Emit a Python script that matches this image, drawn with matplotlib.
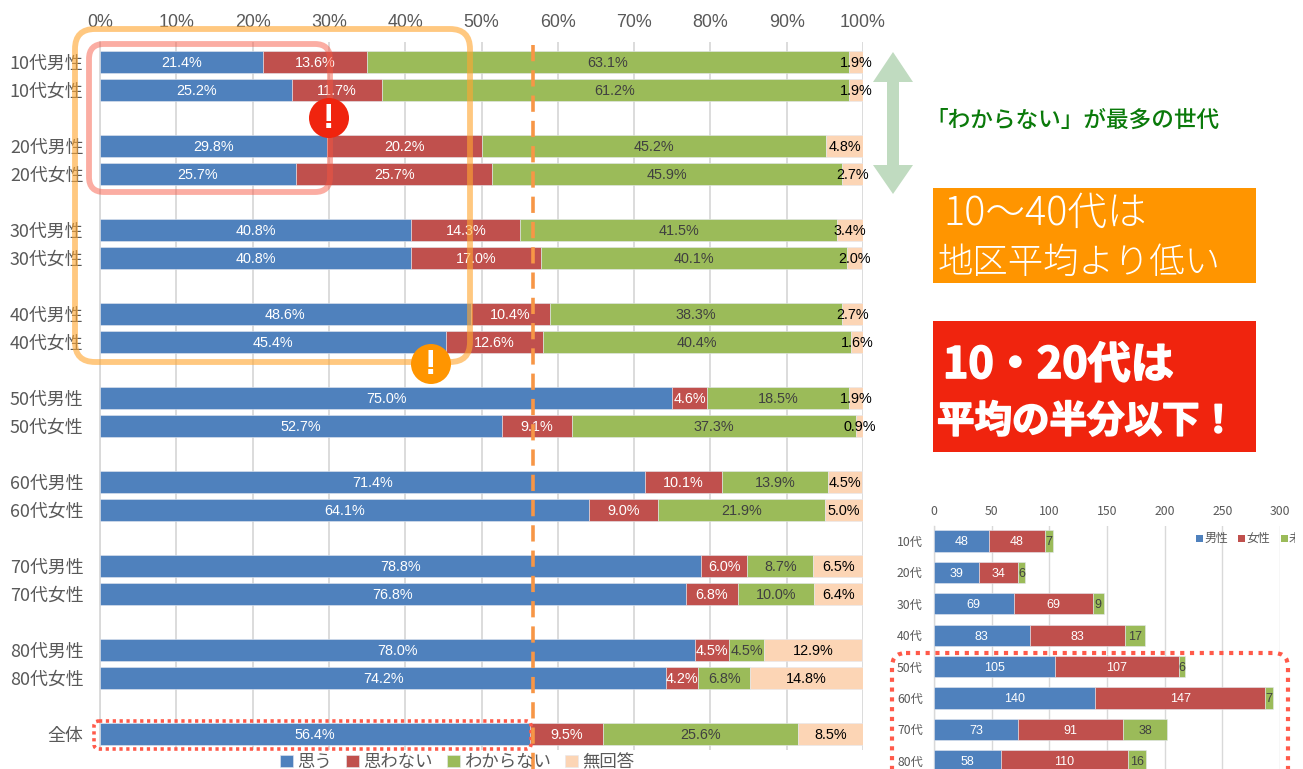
import matplotlib
matplotlib.use("Agg")
import matplotlib.pyplot as plt
import matplotlib.patheffects as pe
from matplotlib.patches import FancyBboxPatch, Circle, Polygon, Rectangle

plt.rcParams["font.family"] = ["Noto Sans CJK JP", "DejaVu Sans"]

W, H = 1303, 769
NUM_FONT = ["Liberation Sans", "Noto Sans CJK JP"]

colors = ["#4F81BD", "#C0504D", "#9BBB59", "#FCD5B5"]
label_colors = ["white", "white", "#404040", "black"]

# main chart
categories = [
    "10代男性", "10代女性", "20代男性", "20代女性",
    "30代男性", "30代女性", "40代男性", "40代女性",
    "50代男性", "50代女性", "60代男性", "60代女性",
    "70代男性", "70代女性", "80代男性", "80代女性", "全体",
]
series_names = ["思う", "思わない", "わからない", "無回答"]
omou = [21.4, 25.2, 29.8, 25.7, 40.8, 40.8, 48.6, 45.4, 75.0, 52.7, 71.4, 64.1, 78.8, 76.8, 78.0, 74.2, 56.4]
omowanai = [13.6, 11.7, 20.2, 25.7, 14.3, 17.0, 10.4, 12.6, 4.6, 9.1, 10.1, 9.0, 6.0, 6.8, 4.5, 4.2, 9.5]
wakaranai = [63.1, 61.2, 45.2, 45.9, 41.5, 40.1, 38.3, 40.4, 18.5, 37.3, 13.9, 21.9, 8.7, 10.0, 4.5, 6.8, 25.6]
mukaito = [1.9, 1.9, 4.8, 2.7, 3.4, 2.0, 2.7, 1.6, 1.9, 0.9, 4.5, 5.0, 6.5, 6.4, 12.9, 14.8, 8.5]

# small chart, only the first glyph of the third legend entry is visible
ages = ["10代", "20代", "30代", "40代", "50代", "60代", "70代", "80代"]
small_names = ["男性", "女性", "未"]
men = [48, 39, 69, 83, 105, 140, 73, 58]
women = [48, 34, 69, 83, 107, 147, 91, 110]
unknown = [7, 6, 9, 17, 6, 7, 38, 16]


def px_axes(fig, left, right, top, bottom):
    return fig.add_axes([left / W, 1 - bottom / H, (right - left) / W, (bottom - top) / H])


def stacked(ax, rows, all_values, height, fontsize, fontfamily):
    handles = []
    for values, color, text_color in zip(all_values, colors, label_colors):
        if not handles:
            lefts = [0] * len(values)
        bars = ax.barh(rows, values, height=height, left=lefts, color=color,
                       edgecolor="#E4E8F0", linewidth=0.4, zorder=3)
        handles.append(bars)
        for y, left, v in zip(rows, lefts, values):
            text = f"{v:.1f}%" if isinstance(v, float) else str(v)
            ax.annotate(text, (left + v / 2, y), xytext=(0, -1), textcoords="offset points",
                        color=text_color, ha="center", va="center",
                        fontsize=fontsize, family=fontfamily, zorder=4)
        lefts = [a + b for a, b in zip(lefts, values)]
    return handles


def style_axes(ax, tick_size, grid_lw):
    ax.xaxis.tick_top()
    ax.grid(axis="x", color="#D9D9D9", linewidth=grid_lw, zorder=0)
    ax.set_axisbelow(True)
    ax.tick_params(length=0)
    for side in ["top", "right", "bottom"]:
        ax.spines[side].set_visible(False)
    ax.spines["left"].set_color("#D9D9D9")
    ax.spines["left"].set_linewidth(grid_lw)
    ax.tick_params(axis="x", labelsize=tick_size, labelcolor="#595959")
    ax.tick_params(axis="y", labelsize=tick_size, labelcolor="#595959")


fig = plt.figure(figsize=(W / 100, H / 100), dpi=100)

# main chart, one blank row after each pair
ax = px_axes(fig, 100, 863, 42, 750)
rows = [i + i // 2 for i in range(len(categories))]
handles = stacked(ax, rows, [omou, omowanai, wakaranai, mukaito], 0.79, 10.4, NUM_FONT)
ax.set_xlim(0, 100)
ax.set_ylim((750 - 62) / 28, (42 - 62) / 28)
ax.set_xticks(range(0, 101, 10))
ax.set_xticklabels([f"{v}%" for v in range(0, 101, 10)], family=NUM_FONT)
ax.set_yticks(rows)
ax.set_yticklabels(categories)
style_axes(ax, 12.9, 1.3)
ax.tick_params(axis="x", pad=8)
ax.tick_params(axis="y", pad=12)
fig.legend([h[0] for h in handles], series_names, loc="center", ncol=4,
           bbox_to_anchor=(457 / W, 1 - 762 / H), frameon=False, fontsize=12.5,
           labelcolor="#595959", handlelength=0.75, handleheight=0.75,
           handletextpad=0.25, columnspacing=0.8, borderpad=0)

# small chart, cut off at the bottom of the picture
ax2 = px_axes(fig, 934, 1280, 526, 769)
small_rows = list(range(len(ages)))
stacked(ax2, small_rows, [men, women, unknown], 0.68, 9, NUM_FONT)
ax2.set_xlim(0, 300)
ax2.set_ylim((769 - 541) / 31.4, (526 - 541) / 31.4)
ax2.set_xticks(range(0, 301, 50))
ax2.set_yticks(small_rows)
ax2.set_yticklabels(ages)
style_axes(ax2, 8.8, 1.0)
ax2.tick_params(axis="x", pad=6)
ax2.tick_params(axis="y", pad=8)

# everything drawn over the charts is placed in picture pixels
over = fig.add_axes([0, 0, 1, 1], facecolor="none")
over.set_xlim(0, W)
over.set_ylim(H, 0)
over.axis("off")


def round_box(x0, y0, x1, y1, r, **kw):
    over.add_patch(FancyBboxPatch((x0 + r, y0 + r), x1 - x0 - 2 * r, y1 - y0 - 2 * r,
                                  boxstyle=f"round,pad={r},rounding_size={r}",
                                  facecolor="none", **kw))


round_box(75, 29, 470, 362, 20, edgecolor="#FFA733", alpha=0.62, linewidth=4.2)
round_box(89, 44, 330, 192, 15, edgecolor="#F8553F", alpha=0.48, linewidth=4.2)
round_box(94, 721, 531, 749, 5, edgecolor="#FF5A4A", linewidth=2.6,
          linestyle=(0, (0.9, 1.0)))
round_box(892, 653, 1288, 800, 14, edgecolor="#FF5A4A", linewidth=3,
          linestyle=(0, (1.0, 1.35)))

over.plot([533, 533], [45, 769], color="#F79646", linewidth=2.6, linestyle=(0, (4.5, 2.5)))

for cx, cy, color in [(329, 118, "#F0240E"), (431, 364, "#FF9500")]:
    over.add_patch(Circle((cx, cy), 20, facecolor=color, edgecolor="none"))
    over.text(cx, cy, "!", color="white", fontsize=25, fontweight="bold",
              family=NUM_FONT, ha="center", va="center")

over.add_patch(Polygon([(893, 52), (913, 82), (899, 82), (899, 165), (913, 165), (893, 194),
                        (873, 165), (887, 165), (887, 82), (873, 82)],
                       closed=True, facecolor="#C0DBC0", edgecolor="none"))
over.text(925, 120, "「わからない」が最多の世代", color="#0A7A0A", fontsize=16.3, fontweight="medium",
          ha="left", va="center")

over.add_patch(Rectangle((933, 188), 323, 95, facecolor="#FF9500", edgecolor="none"))
over.text(943, 214, "10〜40代は", color="white", fontsize=28.5, fontweight="light",
          ha="left", va="center")
over.text(938, 263, "地区平均より低い", color="white", fontsize=25.5, fontweight="light",
          ha="left", va="center")

over.add_patch(Rectangle((933, 321), 323, 131, facecolor="#F0240E", edgecolor="none"))
thick = [pe.withStroke(linewidth=1.2, foreground="white")]
over.text(943, 365, "10・20代は", color="white", fontsize=31, fontweight="bold",
          ha="left", va="center", path_effects=thick)
over.text(937, 421, "平均の半分以下！", color="white", fontsize=27, fontweight="bold",
          ha="left", va="center", path_effects=thick)

# legend of the small chart runs off the right edge of the source
clip = Rectangle((0, 0), 1295, H, transform=over.transData)
for x, color, name in zip([1196, 1238, 1281], colors, small_names):
    over.add_patch(Rectangle((x, 535), 6.5, 6.5, facecolor=color, edgecolor="none"))
    t = over.text(x + 8, 538.5, name, color="#595959", fontsize=8.6, ha="left", va="center")
    t.set_clip_path(clip)
    t.set_clip_on(True)

fig.savefig("out.png", dpi=100)
